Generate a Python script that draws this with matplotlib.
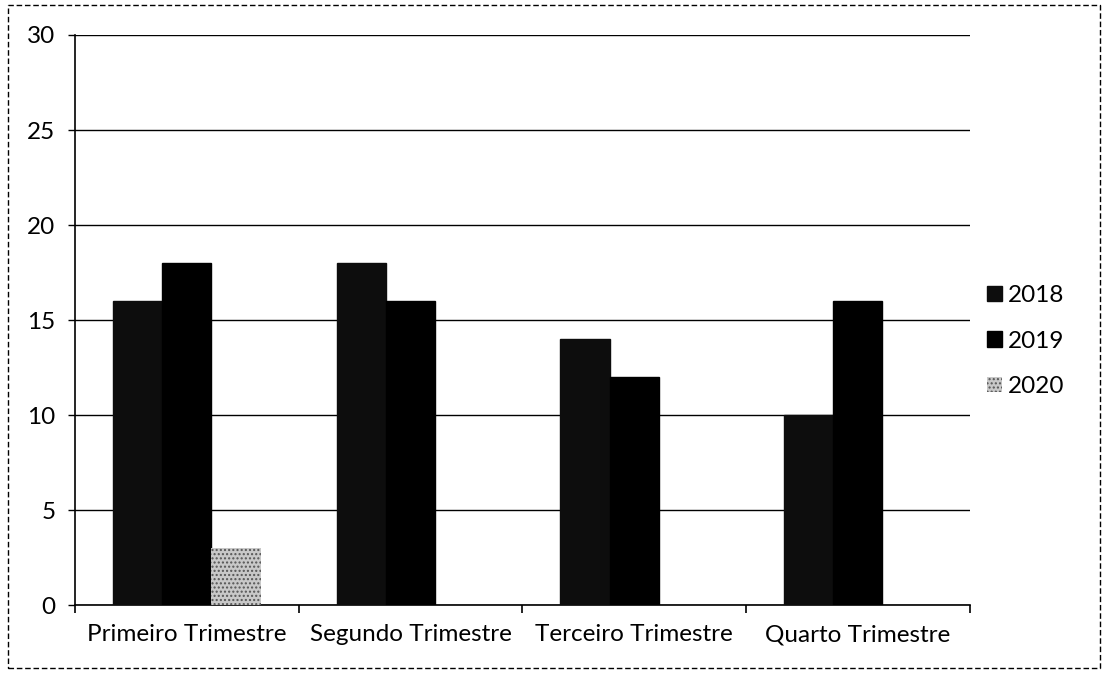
import matplotlib.pyplot as plt
import numpy as np
from matplotlib.patches import Rectangle

# dados
trimestres = ["Primeiro Trimestre", "Segundo Trimestre", "Terceiro Trimestre", "Quarto Trimestre"]
anos = ["2018", "2019", "2020"]
v2018 = [16, 18, 14, 10]
v2019 = [18, 16, 12, 16]
v2020 = [3, 0, 0, 0]

plt.rcParams['font.family'] = ['Lato', 'DejaVu Sans']
plt.rcParams['hatch.linewidth'] = 1.0

fig = plt.figure(figsize=(11.08, 6.73), dpi=100)
ax = fig.add_axes([0.0677, 0.101, 0.8075, 0.847])

x = np.arange(len(trimestres))
w = 0.22

ax.bar(x - w, v2018, w, color='#0d0d0d', edgecolor='#0d0d0d', label=anos[0], zorder=3)
ax.bar(x, v2019, w, color='black', edgecolor='black', label=anos[1], zorder=3)
ax.bar(x + w, v2020, w, color='#c8c8c8', edgecolor='#555555', hatch='....',
       linewidth=0, label=anos[2], zorder=3)

ax.set_xlim(-0.5, 3.5)
ax.set_ylim(0, 30)
ax.set_yticks(range(0, 31, 5))
ax.yaxis.grid(True, color='black', linewidth=1.0, zorder=0)

ax.set_xticks(x)
ax.set_xticklabels(trimestres, fontsize=17.5)
ax.set_xticks(np.arange(-0.5, 4.0, 1.0), minor=True)
ax.tick_params(axis='x', which='major', length=0, pad=14)
ax.tick_params(axis='x', which='minor', length=6, width=1.2, direction='out')
ax.tick_params(axis='y', labelsize=17.5, length=5, width=1.0, pad=9)

for s in ['top', 'right']:
    ax.spines[s].set_visible(False)
ax.spines['left'].set_linewidth(1.2)
ax.spines['bottom'].set_linewidth(1.2)

ax.legend(loc='center left', bbox_to_anchor=(0.995, 0.463), frameon=False,
          fontsize=17.5, handlelength=0.6, handleheight=0.6, handletextpad=0.25,
          labelspacing=1.0)

# moldura do gráfico
fig.patches.append(Rectangle((0.007, 0.007), 0.986, 0.986, transform=fig.transFigure,
                             fill=False, edgecolor='black', linewidth=1.0,
                             linestyle=(0, (4, 2))))

plt.savefig("out.png", dpi=100)
plt.close()
